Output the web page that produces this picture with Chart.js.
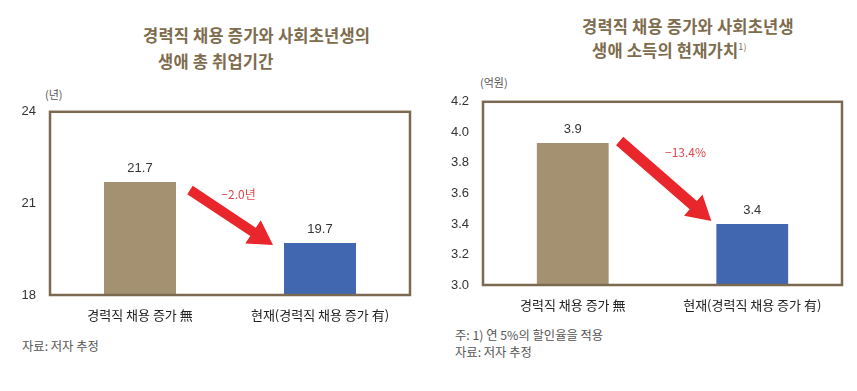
<!DOCTYPE html>
<html><head><meta charset="utf-8">
<script src="https://cdn.jsdelivr.net/npm/chart.js@4/dist/chart.umd.min.js"></script>
<style>
body{margin:0;width:857px;height:391px;background:#fff;position:relative;overflow:hidden;font-family:"Noto Sans CJK KR","Noto Sans",sans-serif}
.t{position:absolute;white-space:nowrap;line-height:1}
.title{font-size:16.5px;font-weight:700;color:#7d6c4e;letter-spacing:0.2px}
.unit{font-size:11px;color:#555}
.note{font-size:12.3px;color:#555}
sup{font-size:9px;vertical-align:7px;font-weight:400}
.box{position:absolute}
</style></head><body>
<div class="t title" style="left:143px;top:27px">경력직 채용 증가와 사회초년생의</div>
<div class="t title" style="left:158px;top:53px">생애 총 취업기간</div>
<div class="t unit" style="left:45px;top:89px">(년)</div>
<div class="t note" style="left:22px;top:340px">자료: 저자 추정</div>

<div class="t title" style="left:582px;top:18px">경력직 채용 증가와 사회초년생</div>
<div class="t title" style="left:592px;top:42px">생애 소득의 현재가치<sup>1)</sup></div>
<div class="t unit" style="left:480px;top:77px">(억원)</div>
<div class="t note" style="left:455px;top:329px">주: 1) 연 5%의 할인율을 적용</div>
<div class="t note" style="left:455px;top:346px">자료: 저자 추정</div>

<div class="box" style="left:0;top:90px;width:430px;height:240px"><canvas id="c1"></canvas></div>
<div class="box" style="left:430px;top:80px;width:427px;height:240px"><canvas id="c2"></canvas></div>
<script>
const categories = ['경력직 채용 증가 無', '현재(경력직 채용 증가 有)'];
const leftValues = [21.7, 19.7];
const leftValueLabels = ['21.7', '19.7'];
const leftTicks = [18, 21, 24];
const leftChange = '−2.0년';
const rightValues = [3.93, 3.40];
const rightValueLabels = ['3.9', '3.4'];
const rightTicks = [3.0, 3.2, 3.4, 3.6, 3.8, 4.0, 4.2];
const rightChange = '−13.4%';
const barColors = ['#a39172', '#4167b1'];

function drawArrow(ctx, sx, sy, tx, ty, w, hw, hl) {
  const dx = tx - sx, dy = ty - sy, L = Math.hypot(dx, dy);
  const ux = dx / L, uy = dy / L, px = -uy, py = ux;
  const bx = tx - ux * hl, by = ty - uy * hl;
  ctx.beginPath();
  ctx.moveTo(sx + px * w / 2, sy + py * w / 2);
  ctx.lineTo(bx + px * w / 2, by + py * w / 2);
  ctx.lineTo(bx + px * hw / 2, by + py * hw / 2);
  ctx.lineTo(tx, ty);
  ctx.lineTo(bx - px * hw / 2, by - py * hw / 2);
  ctx.lineTo(bx - px * w / 2, by - py * w / 2);
  ctx.lineTo(sx - px * w / 2, sy - py * w / 2);
  ctx.closePath();
  ctx.fillStyle = '#e8262b';
  ctx.fill();
}

function makeChart(id, values, valueLabels, ticks, change, yWidth, padRight, dec, arrowCfg) {
  const deco = {
    id: 'deco' + id,
    afterDatasetsDraw(chart) {
      const ctx = chart.ctx, a = chart.chartArea;
      ctx.save();
      ctx.strokeStyle = '#7b6a4f';
      ctx.lineWidth = 2.5;
      ctx.strokeRect(a.left, a.top, a.right - a.left, a.bottom - a.top);
      const bars = chart.getDatasetMeta(0).data;
      ctx.fillStyle = '#333';
      ctx.font = '13px "Liberation Sans", Arial, sans-serif';
      ctx.textAlign = 'center';
      ctx.textBaseline = 'middle';
      bars.forEach((b, i) => ctx.fillText(valueLabels[i], b.x, b.y - 14));
      const b1 = bars[0], b2 = bars[1];
      const sx = b1.x + b1.width / 2 + arrowCfg.s[0], sy = b1.y + arrowCfg.s[1];
      const tx = b2.x - b2.width / 2 + arrowCfg.t[0], ty = b2.y + arrowCfg.t[1];
      drawArrow(ctx, sx, sy, tx, ty, arrowCfg.w, 28, 24);
      ctx.fillStyle = '#e0474a';
      ctx.font = '12px "Noto Sans CJK KR", sans-serif';
      ctx.fillText(change, (sx + tx) / 2 + arrowCfg.l[0], (sy + ty) / 2 + arrowCfg.l[1]);
      ctx.restore();
    }
  };
  return new Chart(document.getElementById(id), {
    type: 'bar',
    data: { labels: categories, datasets: [{ data: values, backgroundColor: barColors, barPercentage: 1, categoryPercentage: 0.4 }] },
    options: {
      responsive: true, maintainAspectRatio: false, animation: false,
      layout: { padding: { top: 18, right: padRight, left: 0, bottom: 0 } },
      plugins: { legend: { display: false }, tooltip: { enabled: false } },
      scales: {
        x: {
          grid: { display: false, drawTicks: false }, border: { display: false },
          ticks: { color: '#222', padding: 12, font: { size: 13, family: '"Noto Sans CJK KR", sans-serif' } },
          afterFit(s) { s.height = 35; }
        },
        y: {
          min: ticks[0], max: ticks[ticks.length - 1],
          grid: { display: false, drawTicks: false }, border: { display: false },
          afterBuildTicks(s) { s.ticks = ticks.map(v => ({ value: v })); },
          ticks: { color: '#333', padding: 14, font: { size: 13, family: '"Liberation Sans", Arial, sans-serif' }, callback: v => Number(v).toFixed(dec) },
          afterFit(s) { s.width = yWidth; }
        }
      }
    },
    plugins: [deco]
  });
}

makeChart('c1', leftValues, leftValueLabels, leftTicks, leftChange, 50, 20, 0,
  { s: [14, 8], t: [-11, 2], w: 10, l: [7, -23] });
makeChart('c2', rightValues, rightValueLabels, rightTicks, rightChange, 53, 15, 1,
  { s: [11, -2], t: [-5, -3], w: 11, l: [20, -29] });
</script>
</body></html>
